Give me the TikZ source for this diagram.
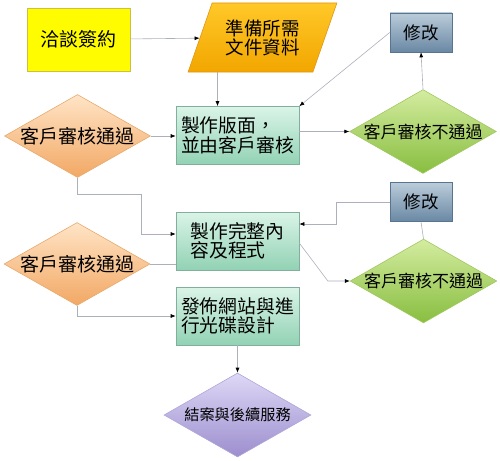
\documentclass[tikz,border=0pt]{standalone}
\usepackage{fontspec}
\newfontfamily\cjk{Noto Sans CJK TC}
\usetikzlibrary{shapes.geometric, arrows.meta, positioning, calc}

% Colours
\definecolor{lineGray}{RGB}{172,176,186}
\definecolor{signFill}{RGB}{255,252,0}
\definecolor{signEdge}{RGB}{205,190,70}
\definecolor{prepTop}{RGB}{255,200,40}
\definecolor{prepBot}{RGB}{242,166,0}
\definecolor{prepEdge}{RGB}{225,150,20}
\definecolor{makeTop}{RGB}{218,244,232}
\definecolor{makeBot}{RGB}{146,210,180}
\definecolor{makeEdge}{RGB}{130,175,155}
\definecolor{fixTop}{RGB}{186,204,218}
\definecolor{fixBot}{RGB}{106,136,164}
\definecolor{fixEdge}{RGB}{88,116,142}
\definecolor{passTop}{RGB}{255,228,198}
\definecolor{passBot}{RGB}{242,168,100}
\definecolor{passEdge}{RGB}{230,170,110}
\definecolor{failTop}{RGB}{212,236,160}
\definecolor{failBot}{RGB}{136,190,64}
\definecolor{failEdge}{RGB}{160,200,96}
\definecolor{closeTop}{RGB}{222,216,246}
\definecolor{closeBot}{RGB}{156,142,206}
\definecolor{closeEdge}{RGB}{176,166,216}

\tikzset{
  base/.style={text=black, inner sep=0pt, line width=0.6pt},
  signbox/.style={base, rectangle, fill=signFill, draw=signEdge,
    minimum width=103pt, minimum height=63pt,
    font={\cjk\fontsize{19pt}{20pt}\selectfont}},
  prepbox/.style={base, trapezium, trapezium left angle=64,
    trapezium right angle=116, trapezium stretches=true,
    top color=prepTop, bottom color=prepBot, draw=prepEdge,
    minimum width=149pt, minimum height=69pt, align=center,
    font={\cjk\fontsize{18.5pt}{19pt}\selectfont}},
  makebox/.style={base, rectangle, top color=makeTop, bottom color=makeBot,
    draw=makeEdge, minimum width=123pt, minimum height=58pt, align=left,
    font={\cjk\fontsize{18.8pt}{19.5pt}\selectfont}},
  fixbox/.style={base, rectangle, top color=fixTop, bottom color=fixBot,
    draw=fixEdge, minimum width=62pt, minimum height=39pt,
    font={\cjk\fontsize{17.5pt}{19pt}\selectfont}},
  passdia/.style={base, diamond, aspect=1.75, top color=passTop,
    bottom color=passBot, draw=passEdge, minimum width=146pt,
    minimum height=83pt, font={\cjk\fontsize{19pt}{19pt}\selectfont}},
  faildia/.style={base, diamond, aspect=1.75, top color=failTop,
    bottom color=failBot, draw=failEdge, minimum width=146pt,
    minimum height=83pt, font={\cjk\fontsize{17pt}{19pt}\selectfont}},
  closedia/.style={base, diamond, aspect=1.75, top color=closeTop,
    bottom color=closeBot, draw=closeEdge, minimum width=147pt,
    minimum height=84pt, font={\cjk\fontsize{15.2pt}{19pt}\selectfont}},
  conn/.style={draw=lineGray, line width=0.6pt},
  flow/.style={conn, -{Latex[length=5pt,width=4pt,color=black]}}
}

\begin{document}
\begin{tikzpicture}[x=1pt, y=-1pt]
\useasboundingbox (0,0) rectangle (500,460);

% Top row
\node[signbox] (sign) at (78.5,39.5) {洽談簽約};
\node[prepbox] (prep) at (262.5,37.5) {準備所需\\文件資料};
\node[fixbox] (fix1) at (421,32.5) {修改};

% First review
\node[passdia] (pass1) at (77.5,136) {客戶審核通過};
\node[makebox] (make1) at (237.5,135.5) {製作版面，\\並由客戶審核};
\node[faildia] (fail1) at (423,131.5) {客戶審核不通過};

% Second review
\node[makebox] (make2) at (237.5,241) {製作完整內\\容及程式};
\node[fixbox] (fix2) at (421,202) {修改};
\node[passdia] (pass2) at (77,264) {客戶審核通過};
\node[faildia] (fail2) at (423.5,281) {客戶審核不通過};

% Finish
\node[makebox] (make3) at (237.5,316) {發佈網站與進\\行光碟設計};
\node[closedia] (close) at (237.5,415) {結案與後續服務};

% Connectors
\draw[flow] (sign) -- (prep);
\draw[flow] ([xshift=-20pt]make1.north |- prep.south) -- ([xshift=-20pt]make1.north);
\draw[flow] (fix1.west) -- (make1.north east);
\draw[flow] (make1.east |- fail1) -- (fail1.west);
\draw[flow] (fail1.north) -- (fix1.south);
\draw[flow] (pass1.east) -- (pass1.east -| make1.west);
\draw[flow] (pass1.south) |- ([xshift=-34pt,yshift=47pt]make2.west)
  |- ([yshift=7pt]make2.west);
\draw[flow] (fix2.west) -| ([xshift=37pt,yshift=17pt]make2.east)
  -- ([yshift=17pt]make2.east);
\draw[conn] (fail2.north) -- (fix2.south);
\draw[flow] ([yshift=-2pt]make2.east) -- ([xshift=-22pt]fail2.west) -- (fail2.west);
\draw[conn] (pass2.east) -- (pass2.east -| make2.west);
\draw[flow] (pass2.south) |- (make3.west);
\draw[flow] (make3.south) -- (close.north);

\end{tikzpicture}
\end{document}
